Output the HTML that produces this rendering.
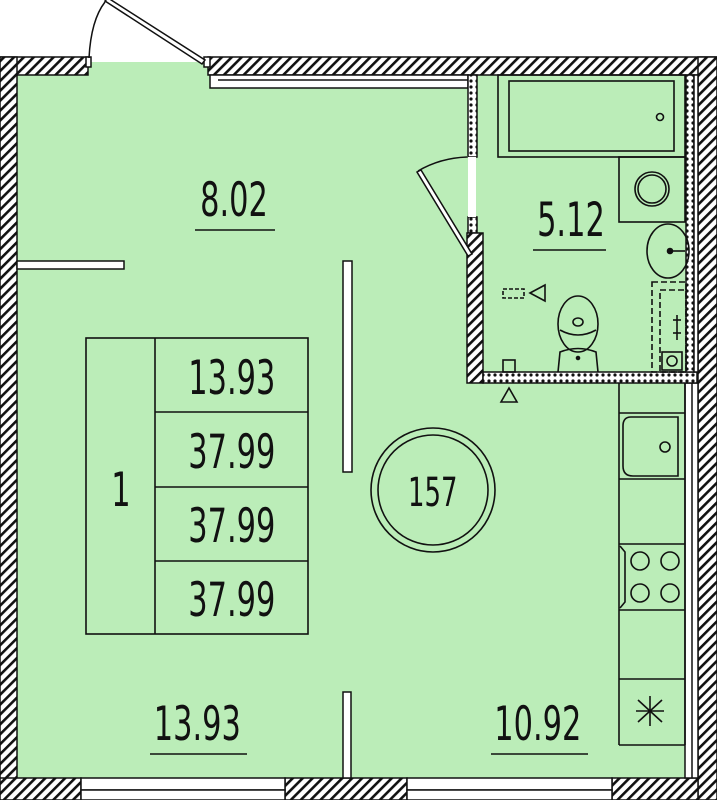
<!DOCTYPE html>
<html><head><meta charset="utf-8"><style>
html,body{margin:0;padding:0;background:#fff;}
svg{display:block;}
text{font-family:"DejaVu Sans Condensed","Liberation Sans",sans-serif;fill:#111;}
</style></head><body>
<svg width="717" height="800" viewBox="0 0 717 800" xmlns="http://www.w3.org/2000/svg">
<defs>
<pattern id="h" width="7" height="7" patternUnits="userSpaceOnUse" patternTransform="rotate(45)">
<rect width="7" height="7" fill="#fff"/><rect x="0" y="0" width="2.6" height="7" fill="#111"/>
</pattern>
<pattern id="d" width="6" height="6" patternUnits="userSpaceOnUse">
<rect width="6" height="6" fill="#fff"/><circle cx="3" cy="3" r="1.6" fill="#111"/>
</pattern>
</defs>
<rect x="17" y="75" width="681" height="703" fill="#bbedb8"/>
<rect x="88" y="62" width="120" height="14" fill="#bbedb8"/>
<g stroke="#111" stroke-width="1.5">
<rect x="0" y="57" width="88" height="18" fill="url(#h)"/>
<rect x="208" y="57" width="509" height="18" fill="url(#h)"/>
<rect x="0" y="57" width="17" height="743" fill="url(#h)"/>
<rect x="698" y="57" width="19" height="743" fill="url(#h)"/>
<rect x="0" y="778" width="81" height="22" fill="url(#h)"/>
<rect x="285" y="778" width="122" height="22" fill="url(#h)"/>
<rect x="612" y="778" width="86" height="22" fill="url(#h)"/>
<rect x="81" y="778" width="204" height="12" fill="#fff"/>
<rect x="81" y="790" width="204" height="10" fill="#fff"/>
<rect x="407" y="778" width="205" height="12" fill="#fff"/>
<rect x="407" y="790" width="205" height="10" fill="#fff"/>
<rect x="210" y="75" width="258" height="13" fill="#fff"/>
<line x1="218" y1="80" x2="468" y2="80"/>
<rect x="86" y="57" width="5" height="10" fill="#fff"/>
<rect x="204" y="57" width="6" height="10" fill="#fff"/>
<polygon points="105,1 108,-2 205,60 202,64" fill="#fff"/>
<path d="M89,58 Q91,20 105,2" fill="none"/>
<rect x="685" y="383" width="13" height="395" fill="#fff"/>
<line x1="692" y1="383" x2="692" y2="778"/>
<rect x="468" y="75" width="9" height="82" fill="url(#d)"/>
<rect x="468" y="217" width="9" height="16" fill="url(#d)"/>
<rect x="467" y="233" width="16" height="150" fill="url(#h)"/>
<rect x="483" y="372" width="214" height="11" fill="url(#d)"/>
<rect x="686" y="75" width="8" height="297" fill="url(#d)"/>
<rect x="694" y="75" width="4" height="297" fill="#fff"/>
<rect x="468" y="157" width="8" height="60" fill="#fff" stroke="none"/>
<polygon points="417,172 421,170 472,254 468,256" fill="#fff"/>
<path d="M418,171 Q440,158 467,157" fill="none"/>
<rect x="17" y="261" width="107" height="8" fill="#fff"/>
<rect x="343" y="261" width="9" height="211" fill="#fff"/>
<rect x="343" y="692" width="8" height="86" fill="#fff"/>
</g>
<g stroke="#111" stroke-width="1.6" fill="none">
<rect x="498" y="75" width="187" height="82"/>
<rect x="509" y="81" width="165" height="70"/>
<circle cx="660" cy="117" r="3.5"/>
<rect x="619" y="157" width="66" height="65"/>
<circle cx="652" cy="189" r="17"/><circle cx="652" cy="189" r="14"/>
<ellipse cx="668" cy="251" rx="21" ry="27"/>
<circle cx="670" cy="251" r="2.5" fill="#111"/>
<line x1="670" y1="251" x2="685" y2="251"/>
<rect x="652" y="282" width="34" height="90" stroke-dasharray="6,3"/>
<rect x="660" y="290" width="26" height="82" stroke-dasharray="6,3"/>
<line x1="677" y1="315" x2="677" y2="340"/><line x1="673" y1="320" x2="681" y2="320"/><line x1="673" y1="333" x2="681" y2="333"/>
<rect x="662" y="352" width="20" height="18"/><circle cx="672" cy="361" r="5"/>
<ellipse cx="578" cy="324" rx="20" ry="28"/>
<path d="M560,330 Q578,340 596,330"/>
<ellipse cx="578" cy="322" rx="5" ry="4"/>
<path d="M558,372 L560,352 Q578,345 596,352 L598,372"/>
<circle cx="578" cy="358" r="1.5" fill="#111"/>
<rect x="503" y="289" width="21" height="9" stroke-dasharray="4,2"/>
<polygon points="530,293 545,285 545,301"/>
<rect x="503" y="360" width="12" height="12"/>
<polygon points="509,388 501,402 517,402"/>
<line x1="619" y1="383" x2="619" y2="745"/>
<line x1="685" y1="383" x2="685" y2="745"/>
<line x1="619" y1="413" x2="685" y2="413"/>
<line x1="619" y1="479" x2="685" y2="479"/>
<path d="M631,417 L678,417 L678,476 L633,476 Q623,476 623,466 L623,426 Q623,417 631,417"/>
<circle cx="665" cy="447" r="5"/>
<line x1="619" y1="544" x2="685" y2="544"/>
<line x1="619" y1="610" x2="685" y2="610"/>
<path d="M620,546 L625,552 L625,602 L620,608"/>
<circle cx="640" cy="561" r="9"/><circle cx="670" cy="561" r="9"/>
<circle cx="640" cy="593" r="9"/><circle cx="670" cy="593" r="9"/>
<line x1="619" y1="679" x2="685" y2="679"/>
<line x1="619" y1="745" x2="685" y2="745"/>
<line x1="650" y1="696" x2="650" y2="726"/>
<line x1="638" y1="700" x2="662" y2="722"/>
<line x1="662" y1="700" x2="638" y2="722"/>
<line x1="636" y1="711" x2="664" y2="711"/>
<rect x="86" y="338" width="222" height="296"/>
<line x1="155" y1="338" x2="155" y2="634"/>
<line x1="155" y1="412" x2="308" y2="412"/>
<line x1="155" y1="487" x2="308" y2="487"/>
<line x1="155" y1="561" x2="308" y2="561"/>
<circle cx="433" cy="490" r="62"/>
<circle cx="433" cy="490" r="55"/>
<line x1="195" y1="230" x2="275" y2="230"/>
<line x1="533" y1="250" x2="606" y2="250"/>
<line x1="150" y1="754" x2="247" y2="754"/>
<line x1="491" y1="754" x2="588" y2="754"/>
</g>
<g font-size="47" text-anchor="middle" transform="scale(0.72,1)">
<text x="325" y="216">8.02</text>
<text x="793" y="236">5.12</text>
<text x="274" y="740">13.93</text>
<text x="747" y="740">10.92</text>
<text x="322" y="394">13.93</text>
<text x="322" y="468">37.99</text>
<text x="322" y="542">37.99</text>
<text x="322" y="616">37.99</text>
<text x="168" y="506">1</text>
<text x="601" y="506" font-size="40">157</text>
</g>
</svg>
</body></html>
